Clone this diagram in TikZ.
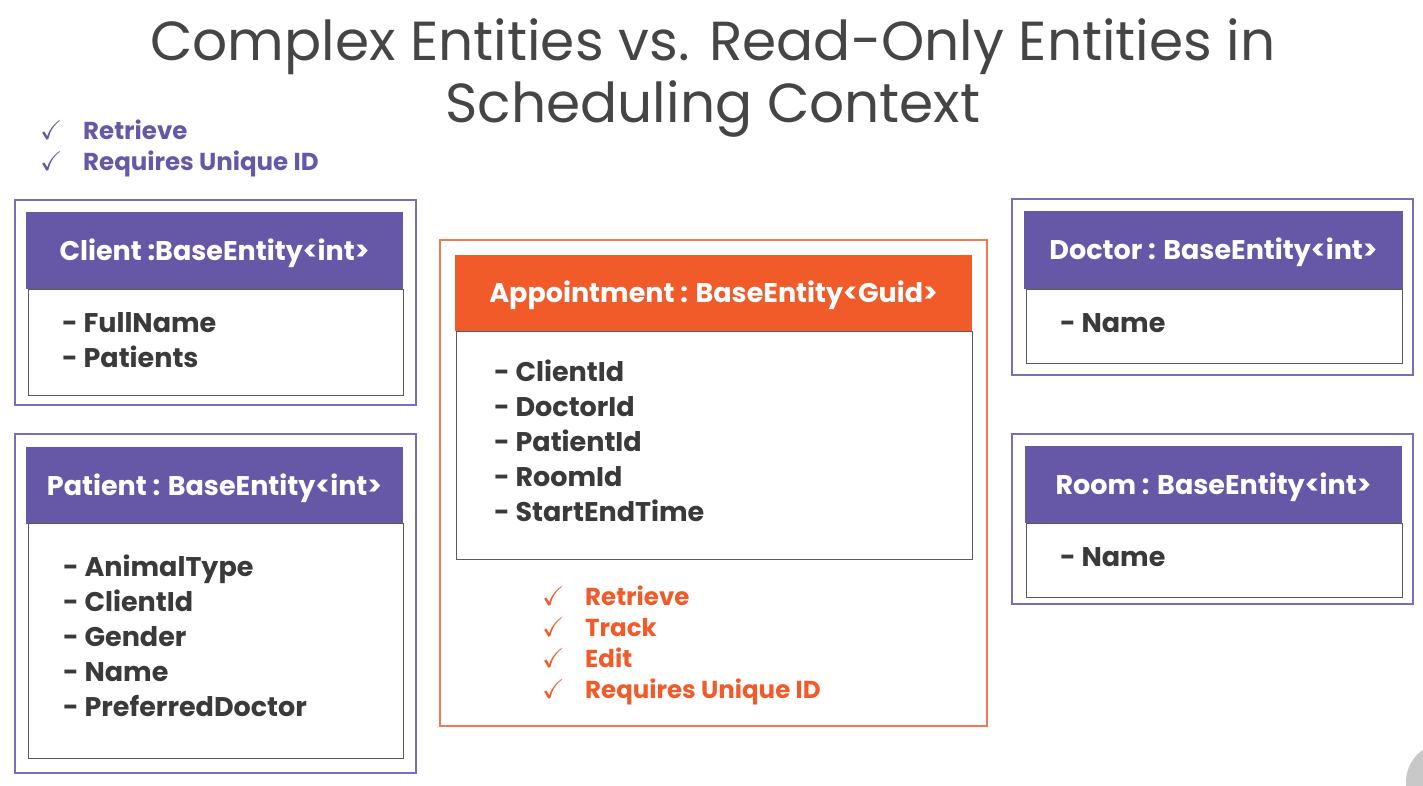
\documentclass[tikz,border=0pt]{standalone}
\usepackage{amssymb}
\usepackage{fontspec}
\setmainfont{Poppins}
\usetikzlibrary{positioning}

\definecolor{entpurple}{HTML}{6658A6}
\definecolor{framepurple}{HTML}{7A6EB6}
\definecolor{entorange}{HTML}{F15A29}
\definecolor{frameorange}{HTML}{EE7A52}
\definecolor{bodyline}{HTML}{5A5A5A}
\definecolor{ink}{HTML}{3A3A3A}
\definecolor{titleink}{HTML}{454545}
\definecolor{knobgray}{HTML}{C8C8C8}

\tikzset{
    frame/.style={draw=#1, line width=1.5pt, inner sep=0pt},
    head/.style={fill=#1, text=white, inner sep=0pt, text height=19pt, text depth=0pt,
        font=\bfseries\fontsize{27}{32}\selectfont},
    body/.style={draw=bodyline, line width=1pt, inner sep=0pt, anchor=north west},
    items/.style={text=ink, inner sep=0pt, anchor=base west, align=left,
        font=\bfseries\fontsize{27}{35}\selectfont},
    ticks/.style={text=#1, inner sep=0pt, anchor=base west, align=left,
        font=\bfseries\fontsize{24.5}{31}\selectfont},
}
\newcommand{\tick}{\makebox[43pt][l]{\scalebox{1.1}{$\checkmark$}}}

\begin{document}
\begin{tikzpicture}[x=1pt, y=-1pt]
    \useasboundingbox (0,0) rectangle (1423,786);
    \fill[knobgray] (1445,782) circle (39);

    \node[text=titleink, align=center, font=\fontsize{55}{62}\selectfont] (title) at (713,78)
        {Complex Entities vs. Read-Only Entities in\\Scheduling Context};
    \node[ticks=entpurple] (readonly) at (40,171)
        {\tick Retrieve\\\tick Requires Unique ID};

    % client
    \node[frame=framepurple, minimum width=401, minimum height=205] (clientframe) at (215.5,302.5) {};
    \node[head=entpurple, minimum width=377, minimum height=77] (clienthead) at (214.5,250.5)
        {Client :BaseEntity<int>};
    \node[body, minimum width=375, minimum height=106] (clientbody) at (28,289) {};
    \node[items] (clientitems) at (62,367) {- FullName\\- Patients};

    % patient
    \node[frame=framepurple, minimum width=401, minimum height=339] (patientframe) at (215.5,603.5) {};
    \node[head=entpurple, minimum width=377, minimum height=77] (patienthead) at (214.5,485.5)
        {Patient : BaseEntity<int>};
    \node[body, minimum width=375, minimum height=235] (patientbody) at (28,523) {};
    \node[items] (patientitems) at (63,716)
        {- AnimalType\\- ClientId\\- Gender\\- Name\\- PreferredDoctor};

    % appointment
    \node[frame=frameorange, minimum width=547, minimum height=486] (apptframe) at (713.5,483) {};
    \node[head=entorange, minimum width=517, minimum height=76] (appthead) at (713.5,293)
        {Appointment : BaseEntity<Guid>};
    \node[body, minimum width=516, minimum height=228] (apptbody) at (456,331) {};
    \node[items] (apptitems) at (494,521)
        {- ClientId\\- DoctorId\\- PatientId\\- RoomId\\- StartEndTime};
    \node[ticks=entorange] (complex) at (542,698)
        {\tick Retrieve\\\tick Track\\\tick Edit\\\tick Requires Unique ID};

    % doctor
    \node[frame=framepurple, minimum width=401, minimum height=176] (doctorframe) at (1212.5,287) {};
    \node[head=entpurple, minimum width=379, minimum height=78] (doctorhead) at (1213.5,250)
        {Doctor : BaseEntity<int>};
    \node[body, minimum width=376, minimum height=74] (doctorbody) at (1026,289) {};
    \node[items] (doctoritems) at (1060,332) {- Name};

    % room
    \node[frame=framepurple, minimum width=401, minimum height=170] (roomframe) at (1212.5,519) {};
    \node[head=entpurple, minimum width=377, minimum height=77] (roomhead) at (1213.5,484.5)
        {Room : BaseEntity<int>};
    \node[body, minimum width=376, minimum height=74] (roombody) at (1026,523) {};
    \node[items] (roomitems) at (1060,566) {- Name};
\end{tikzpicture}
\end{document}
